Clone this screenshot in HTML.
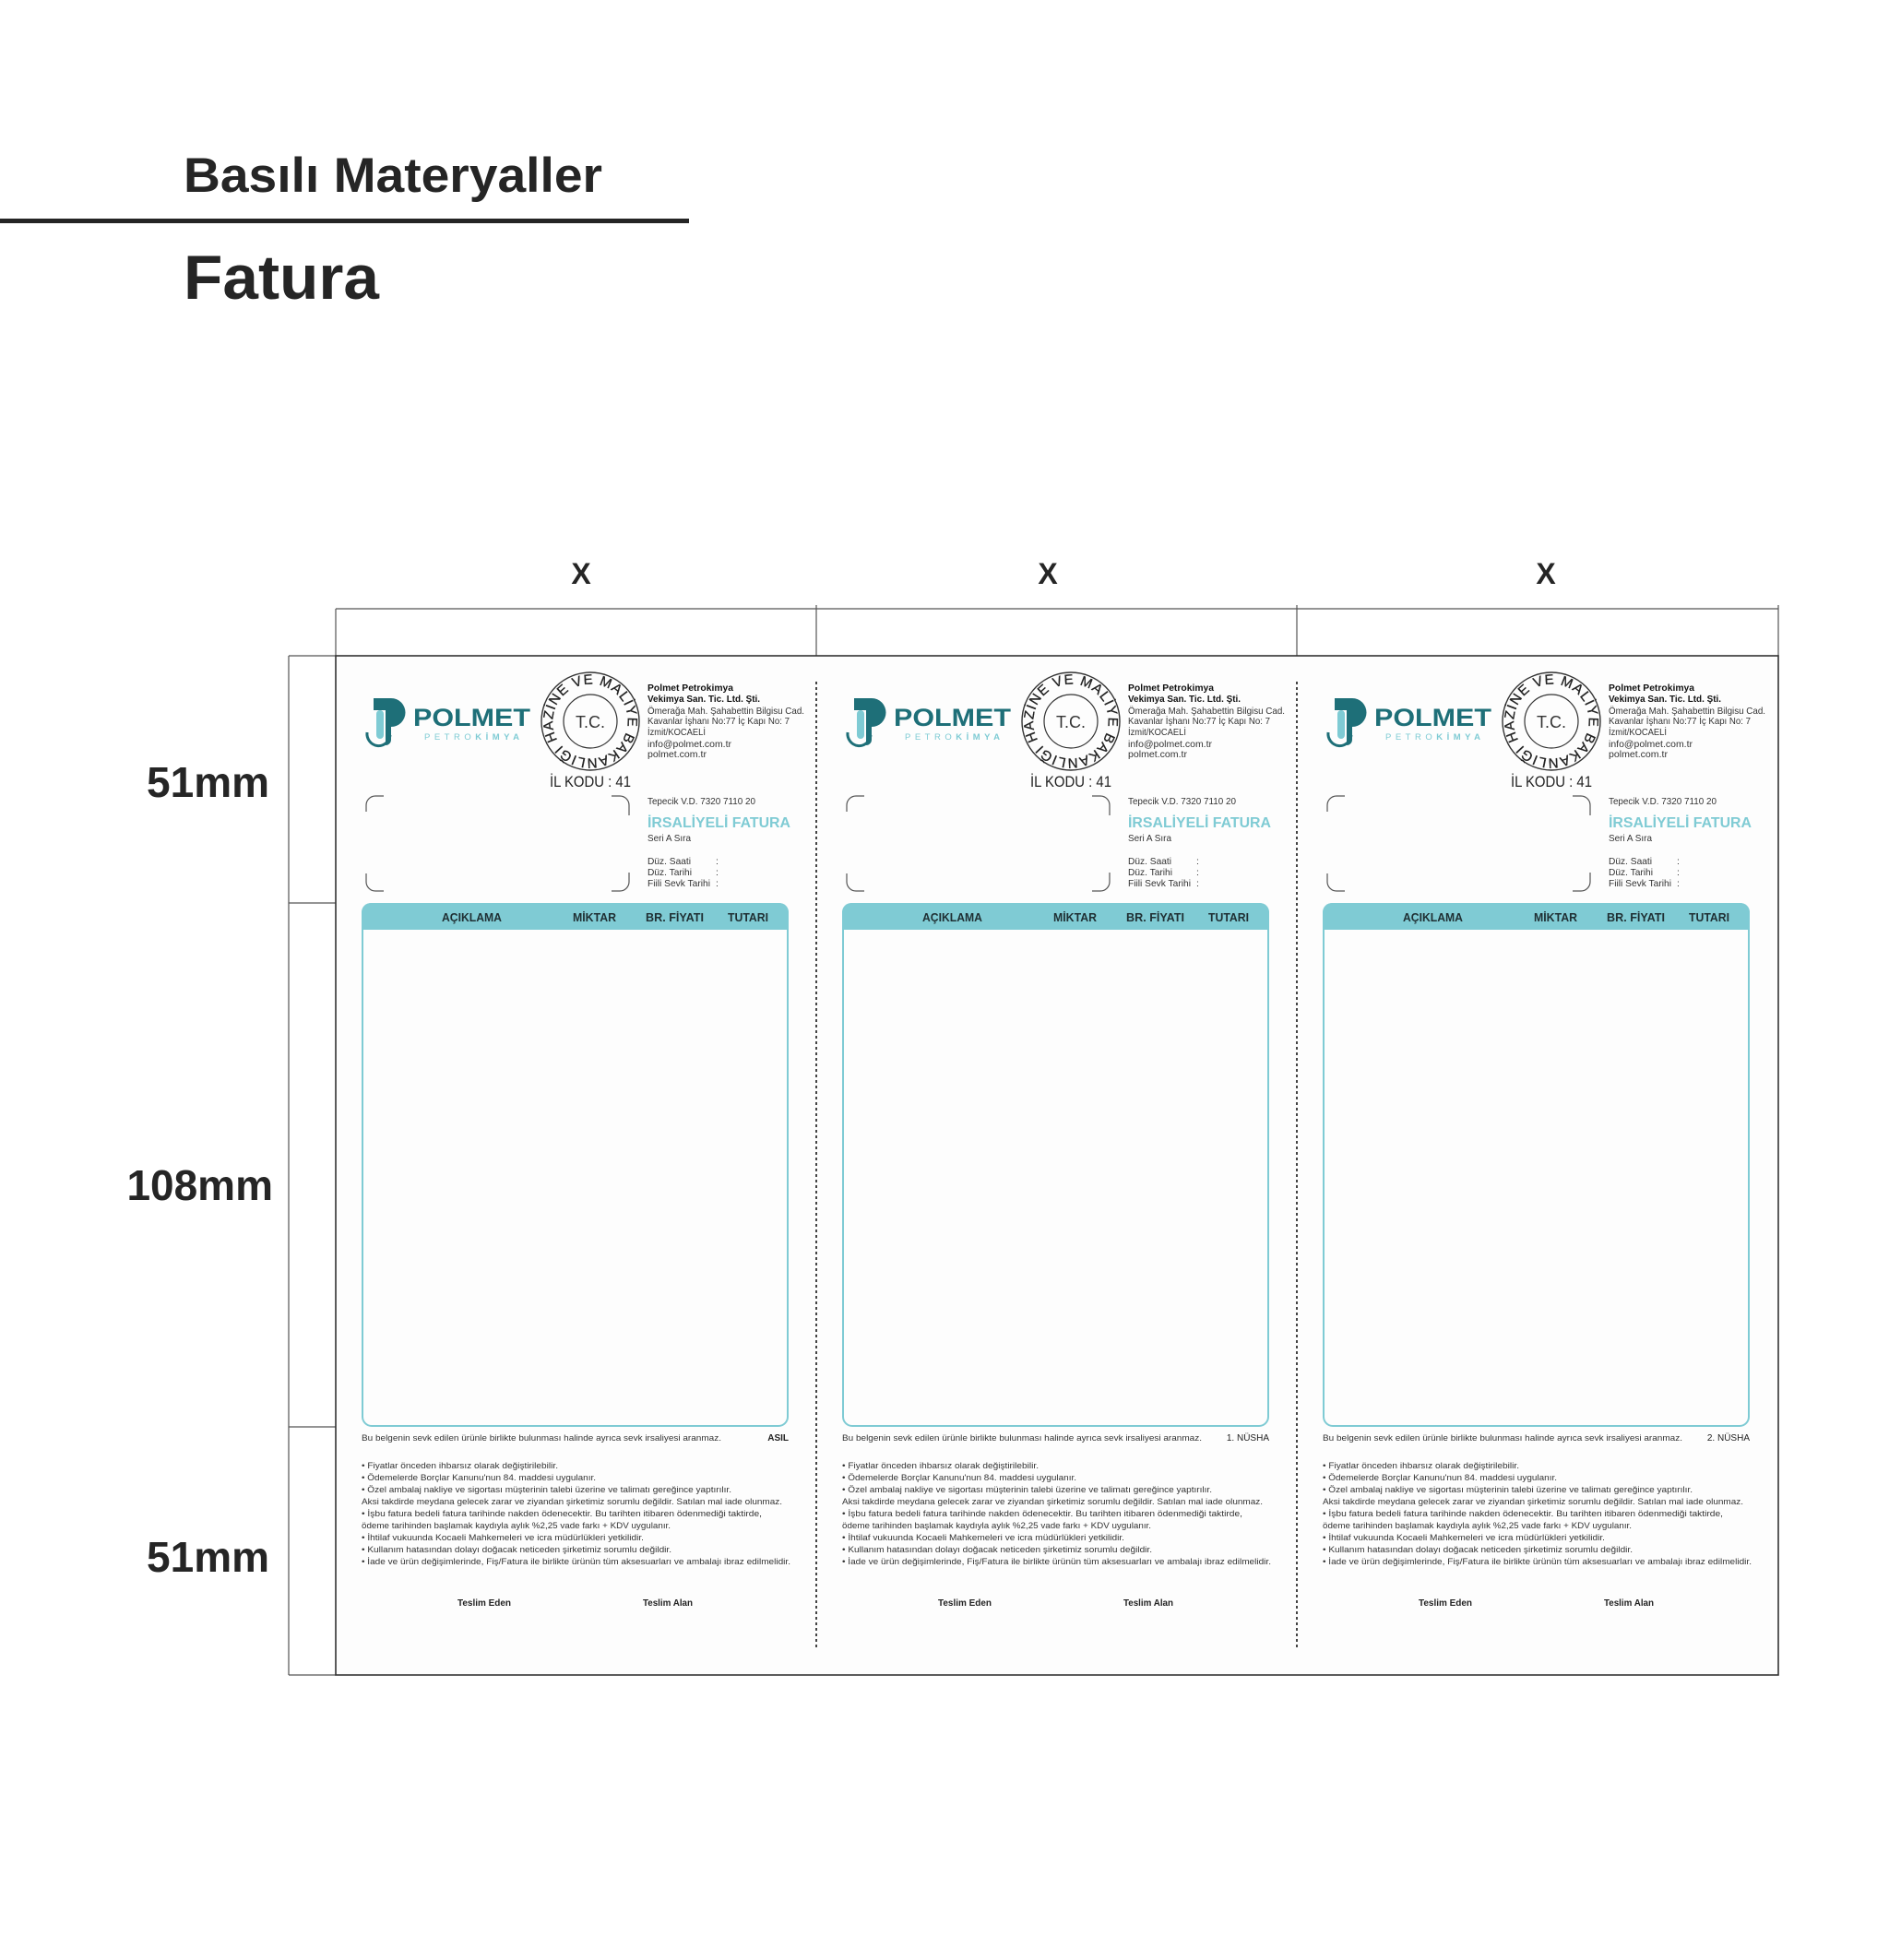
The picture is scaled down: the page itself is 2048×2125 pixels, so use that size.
<!DOCTYPE html>
<html><head><meta charset="utf-8"><style>
html,body{margin:0;padding:0;background:#fff}
svg{display:block}
text{font-family:"Liberation Sans",sans-serif}
</style></head><body>
<svg width="2048" height="2125" viewBox="0 0 2048 2125" xmlns="http://www.w3.org/2000/svg">
<defs>
<path id="ring" d="M240.5,802.5 A41,41 0 0 1 311.5,761.5 A41,41 0 0 1 240.5,802.5"/>
</defs>
<rect width="2048" height="2125" fill="#fff"/>
<text x="199" y="208" font-size="53" font-weight="bold" fill="#252525" textLength="454" lengthAdjust="spacingAndGlyphs">Basılı Materyaller</text>
<rect x="0" y="237" width="747" height="5" fill="#252525"/>
<text x="199" y="324" font-size="68" font-weight="bold" fill="#252525" textLength="212" lengthAdjust="spacingAndGlyphs">Fatura</text>

<g font-size="32" font-weight="bold" fill="#252525" text-anchor="middle">
<text x="630" y="633">X</text><text x="1136" y="633">X</text><text x="1676" y="633">X</text>
</g>
<g stroke="#555" stroke-width="1.2" fill="none">
<line x1="364" y1="660" x2="1928" y2="660"/>
<line x1="364" y1="660" x2="364" y2="711"/>
<line x1="885" y1="656" x2="885" y2="711"/>
<line x1="1406" y1="656" x2="1406" y2="711"/>
<line x1="1928" y1="656" x2="1928" y2="711"/>
<line x1="313" y1="711" x2="313" y2="1816"/>
<line x1="313" y1="711" x2="364" y2="711"/>
<line x1="313" y1="979" x2="392" y2="979"/>
<line x1="313" y1="1547" x2="392" y2="1547"/>
<line x1="313" y1="1816" x2="364" y2="1816"/>
</g>
<rect x="364" y="711" width="1564" height="1105" fill="#fdfdfd" stroke="#333" stroke-width="1.6"/>
<g font-size="46" font-weight="bold" fill="#252525" text-anchor="end">
<text x="292" y="864">51mm</text>
<text x="296" y="1301">108mm</text>
<text x="292" y="1704">51mm</text>
</g>

<g transform="translate(364,0)">
<g id="p">
<path d="M41,757 H60 a15.5,15.5 0 0 1 0,31 H60 V802 a6,6 0 0 1 -6,6 V770 H41 Z" fill="#1e6f78"/>
<rect x="44" y="770" width="8" height="31" rx="4" fill="#7fcbd4"/>
<path d="M34,794 a12.5,13 0 0 0 25,3" stroke="#1e6f78" stroke-width="3" fill="none"/>
<text x="84" y="787" font-size="27" font-weight="bold" fill="#1e6f78" textLength="127" lengthAdjust="spacingAndGlyphs">POLMET</text>
<text x="96" y="802" font-size="9.5" fill="#7fcbd4" textLength="103" lengthAdjust="spacing">PETRO<tspan font-weight="bold">KİMYA</tspan></text>
<circle cx="276" cy="782" r="53" fill="none" stroke="#333" stroke-width="1.4"/>
<circle cx="276" cy="782" r="29" fill="none" stroke="#333" stroke-width="1.2"/>
<text x="276" y="789" font-size="18" fill="#333" text-anchor="middle">T.C.</text>
<text font-size="15" fill="#222" stroke="#222" stroke-width="0.3"><textPath href="#ring" textLength="248" lengthAdjust="spacing">HAZİNE VE MALİYE BAKANLIĞI</textPath></text>
<text x="276" y="853" font-size="17" fill="#222" text-anchor="middle" textLength="88" lengthAdjust="spacingAndGlyphs">İL KODU : 41</text>
<g font-size="10.5" fill="#333">
<text x="338" y="749" font-weight="bold" fill="#111" textLength="93" lengthAdjust="spacingAndGlyphs">Polmet Petrokimya</text>
<text x="338" y="761" font-weight="bold" fill="#111" textLength="122" lengthAdjust="spacingAndGlyphs">Vekimya San. Tic. Ltd. Şti.</text>
<text x="338" y="774" textLength="170" lengthAdjust="spacingAndGlyphs">Ömerağa Mah. Şahabettin Bilgisu Cad.</text>
<text x="338" y="785" textLength="154" lengthAdjust="spacingAndGlyphs">Kavanlar İşhanı No:77 İç Kapı No: 7</text>
<text x="338" y="797" textLength="63" lengthAdjust="spacingAndGlyphs">İzmit/KOCAELİ</text>
<text x="338" y="810" textLength="91" lengthAdjust="spacingAndGlyphs">info@polmet.com.tr</text>
<text x="338" y="821" textLength="64" lengthAdjust="spacingAndGlyphs">polmet.com.tr</text>
<text x="338" y="872" textLength="117" lengthAdjust="spacingAndGlyphs">Tepecik V.D. 7320 7110 20</text>
<text x="338" y="912" textLength="47" lengthAdjust="spacingAndGlyphs">Seri A Sıra</text>
<text x="338" y="937" textLength="47" lengthAdjust="spacingAndGlyphs">Düz. Saati</text>
<text x="338" y="949" textLength="48" lengthAdjust="spacingAndGlyphs">Düz. Tarihi</text>
<text x="338" y="961" textLength="68" lengthAdjust="spacingAndGlyphs">Fiili Sevk Tarihi</text>
<text x="412" y="937">:</text><text x="412" y="949">:</text><text x="412" y="961">:</text>
</g>
<text x="338" y="897" font-size="16" font-weight="bold" fill="#7fcbd4" textLength="155" lengthAdjust="spacingAndGlyphs">İRSALİYELİ FATURA</text>
<g stroke="#555" stroke-width="1.2" fill="none">
<path d="M33,880 V873 a10,10 0 0 1 10,-10 H52"/>
<path d="M299,863 H308 a10,10 0 0 1 10,10 V884"/>
<path d="M33,947 V956 a10,10 0 0 0 10,10 H52"/>
<path d="M299,966 H308 a10,10 0 0 0 10,-10 V946"/>
</g>
<rect x="29" y="980" width="461" height="566" rx="10" fill="#fdfdfd" stroke="#7fcbd4" stroke-width="2"/>
<path d="M28,1008 V989 a10,10 0 0 1 10,-10 H481 a10,10 0 0 1 10,10 V1008 Z" fill="#7fcbd4"/>
<g font-size="12.5" font-weight="bold" fill="#1f2f33">
<text x="115" y="999" textLength="65" lengthAdjust="spacingAndGlyphs">AÇIKLAMA</text>
<text x="257" y="999" textLength="47" lengthAdjust="spacingAndGlyphs">MİKTAR</text>
<text x="336" y="999" textLength="63" lengthAdjust="spacingAndGlyphs">BR. FİYATI</text>
<text x="425" y="999" textLength="44" lengthAdjust="spacingAndGlyphs">TUTARI</text>
</g>
<g font-size="9.5" fill="#333">
<text x="28" y="1562" textLength="390" lengthAdjust="spacingAndGlyphs">Bu belgenin sevk edilen ürünle birlikte bulunması halinde ayrıca sevk irsaliyesi aranmaz.</text>
<text x="28" y="1592" textLength="213" lengthAdjust="spacingAndGlyphs">• Fiyatlar önceden ihbarsız olarak değiştirilebilir.</text>
<text x="28" y="1605" textLength="254" lengthAdjust="spacingAndGlyphs">• Ödemelerde Borçlar Kanunu'nun 84. maddesi uygulanır.</text>
<text x="28" y="1618" textLength="401" lengthAdjust="spacingAndGlyphs">• Özel ambalaj nakliye ve sigortası müşterinin talebi üzerine ve talimatı gereğince yaptırılır.</text>
<text x="28" y="1631" textLength="456" lengthAdjust="spacingAndGlyphs">Aksi takdirde meydana gelecek zarar ve ziyandan şirketimiz sorumlu değildir. Satılan mal iade olunmaz.</text>
<text x="28" y="1644" textLength="434" lengthAdjust="spacingAndGlyphs">• İşbu fatura bedeli fatura tarihinde nakden ödenecektir. Bu tarihten itibaren ödenmediği taktirde,</text>
<text x="28" y="1657" textLength="335" lengthAdjust="spacingAndGlyphs">ödeme tarihinden başlamak kaydıyla aylık %2,25 vade farkı + KDV uygulanır.</text>
<text x="28" y="1670" textLength="306" lengthAdjust="spacingAndGlyphs">• İhtilaf vukuunda Kocaeli Mahkemeleri ve icra müdürlükleri yetkilidir.</text>
<text x="28" y="1683" textLength="336" lengthAdjust="spacingAndGlyphs">• Kullanım hatasından dolayı doğacak neticeden şirketimiz sorumlu değildir.</text>
<text x="28" y="1696" textLength="465" lengthAdjust="spacingAndGlyphs">• İade ve ürün değişimlerinde, Fiş/Fatura ile birlikte ürünün tüm aksesuarları ve ambalajı ibraz edilmelidir.</text>
</g>
<g font-size="10" font-weight="bold" fill="#222" text-anchor="middle">
<text x="161" y="1741" textLength="58" lengthAdjust="spacingAndGlyphs">Teslim Eden</text>
<text x="360" y="1741" textLength="54" lengthAdjust="spacingAndGlyphs">Teslim Alan</text>
</g>
</g>
<text x="491" y="1562" font-size="10" font-weight="bold" fill="#222" text-anchor="end">ASIL</text>
<line x1="521" y1="739" x2="521" y2="1787" stroke="#444" stroke-width="2" stroke-dasharray="3,3"/>
</g>

<g transform="translate(885,0)">
<use href="#p"/>
<text x="491" y="1562" font-size="10" fill="#222" text-anchor="end">1. NÜSHA</text>
<line x1="521" y1="739" x2="521" y2="1787" stroke="#444" stroke-width="2" stroke-dasharray="3,3"/>
</g>
<g transform="translate(1406,0)">
<use href="#p"/>
<text x="491" y="1562" font-size="10" fill="#222" text-anchor="end">2. NÜSHA</text>
</g>
</svg>
</body></html>
